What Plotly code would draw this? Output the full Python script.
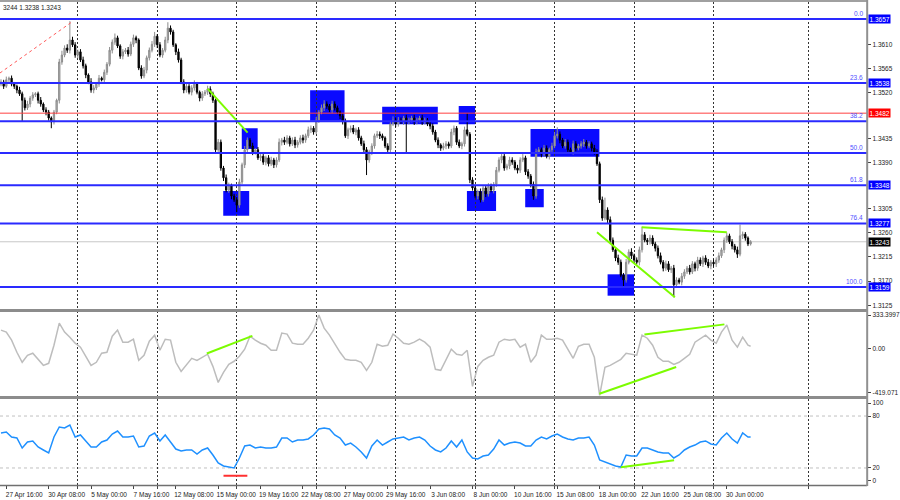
import plotly.graph_objects as go

# ---------------- DATA ----------------
# H4 candles: closes in pips (1.xxxx -> xxxx), wicks in pips
first_open_pips = 3536
close_pips = [
    3540,3532,3544,3547,3536,3532,3525,3518,3506,3492,
    3499,3510,3516,3518,3506,3499,3488,3484,3473,3466,
    3484,3506,3577,3590,3603,3599,3618,3609,3590,3596,
    3581,3570,3553,3540,3525,3529,3536,3547,3544,3558,
    3573,3599,3614,3622,3607,3588,3596,3599,3592,3610,
    3622,3618,3566,3551,3562,3585,3599,3610,3625,3609,
    3590,3599,3618,3640,3633,3609,3596,3581,3540,3525,
    3532,3521,3529,3536,3521,3510,3518,3521,3527,3518,
    3506,3414,3428,3380,3362,3339,3348,3328,3321,3311,
    3354,3386,3414,3432,3421,3410,3414,3399,3402,3391,
    3399,3388,3395,3386,3395,3428,3432,3428,3436,3425,
    3432,3423,3428,3436,3432,3440,3451,3454,3447,3469,
    3484,3492,3499,3495,3488,3499,3492,3484,3477,3466,
    3440,3451,3454,3447,3451,3436,3425,3414,3395,3410,
    3421,3440,3443,3440,3436,3421,3414,3462,3469,3462,
    3469,3466,3473,3466,3469,3473,3466,3469,3473,3466,
    3469,3462,3458,3447,3432,3423,3417,3421,3425,3421,
    3447,3454,3428,3421,3425,3451,3443,3358,3343,3328,
    3336,3321,3343,3332,3346,3339,3350,3376,3395,3402,
    3380,3384,3395,3391,3380,3376,3395,3399,3373,3365,
    3350,3328,3410,3414,3406,3417,3402,3414,3421,3440,
    3443,3432,3421,3428,3414,3410,3425,3417,3421,3425,
    3428,3421,3425,3417,3410,3388,3321,3287,3302,3284,
    3246,3228,3213,3205,3181,3172,3205,3224,3217,3209,
    3205,3228,3256,3246,3243,3250,3239,3231,3217,3205,
    3194,3202,3191,3194,3163,3172,3168,3179,3187,3194,
    3187,3202,3194,3209,3202,3213,3205,3198,3205,3202,
    3209,3217,3228,3246,3254,3243,3235,3228,3220,3254,3257,3250,3239,3243,
]
wick_hi = [
    5,4,6,3,5,4,3,6,4,5,
    6,4,5,3,4,6,3,5,4,3,
    4,3,6,8,5,7,35,6,5,4,
    5,6,4,3,7,5,4,6,3,5,
    4,6,5,8,4,3,5,4,6,5,
    6,4,3,5,6,4,5,6,8,4,
    5,4,6,11,5,4,3,6,4,5,
    6,4,5,7,4,3,5,4,6,5,
    4,3,6,5,4,6,5,3,4,5,
    6,4,7,5,4,6,3,5,4,6,
    4,5,6,4,5,7,4,6,5,4,
    5,6,4,5,6,4,6,5,4,6,
    4,6,7,5,4,6,5,4,3,5,
    6,4,5,6,4,5,4,6,5,4,
    5,4,6,5,4,3,5,6,7,5,
    6,5,4,6,5,4,6,5,4,6,
    5,4,6,5,4,5,3,6,5,4,
    6,5,4,5,4,6,31,4,5,6,
    4,6,5,4,6,5,4,6,5,7,
    5,4,6,5,4,6,5,7,4,5,
    4,5,6,5,4,6,5,4,6,7,
    13,5,4,6,5,4,6,5,4,5,
    6,4,5,4,6,5,4,6,23,5,
    6,5,4,6,5,4,6,5,7,4,
    5,6,15,5,4,6,5,4,5,6,
    4,6,5,4,6,5,4,6,5,4,
    6,5,4,6,5,4,5,6,4,5,
    5,6,4,5,6,4,5,4,6,21,5,4,3,3,
]
wick_lo = [
    4,5,3,6,4,5,6,4,40,5,
    4,6,5,4,6,5,4,6,5,12,
    5,4,6,5,4,5,6,4,5,6,
    4,5,6,4,5,6,4,5,3,6,
    5,4,6,5,4,5,6,4,5,4,
    5,6,4,5,4,6,5,4,5,6,
    4,5,4,6,5,4,6,5,4,6,
    5,4,6,5,4,6,5,4,5,6,
    5,6,4,5,6,4,5,6,4,13,
    5,4,6,5,4,6,5,4,6,5,
    6,5,4,6,5,4,6,5,4,5,
    4,6,5,4,6,5,4,6,5,4,
    5,4,6,5,4,6,5,4,6,5,
    4,6,5,4,6,5,4,6,28,5,
    6,5,4,6,5,4,6,5,4,6,
    5,4,6,58,5,4,6,5,4,6,
    5,4,6,5,4,6,5,4,6,5,
    4,6,5,4,6,5,4,6,5,4,
    6,5,4,6,5,4,6,5,4,6,
    5,4,6,5,4,6,5,4,6,5,
    6,7,5,4,6,5,4,6,5,4,
    5,6,4,5,6,4,5,6,4,5,
    6,5,4,6,5,4,6,5,4,6,
    5,4,6,5,4,13,5,4,6,5,
    4,6,5,4,6,5,4,6,5,4,
    6,5,4,6,23,5,4,6,5,4,
    5,4,6,5,4,6,5,4,6,5,
    6,5,4,6,5,4,6,5,7,4,6,5,4,3,
]

# CCI and RSI read every second bar (plus last bar)
cci_vals = [
    165,148,77,-30,-118,-56,-38,-92,-145,-127,
    32,227,148,103,50,15,-65,-145,-118,-38,
    -30,112,165,59,59,85,-101,-56,68,121,
    -12,85,77,-118,-198,-136,-83,-101,-74,-47,
    -154,-295,-207,-136,-109,-65,-3,112,77,50,
    32,-12,-12,139,130,50,41,41,94,165,
    298,183,121,41,-30,-92,-101,-101,-118,-189,
    -118,41,23,32,130,94,50,41,59,85,
    59,15,-180,-189,-101,-3,-47,-56,-12,-330,
    -154,-101,-74,-56,59,85,77,85,15,41,
    -118,-56,121,85,85,94,77,-3,-83,23,
    41,41,-74,-410,-162,-145,-118,-92,-38,-47,
    -56,121,94,32,-74,-109,-109,-136,-118,-83,
    -47,59,94,121,77,50,148,210,77,15,
    103,32,23,
]
rsi_vals = [
    60.4,61.5,55.8,54.6,43.1,50.0,51.2,44.2,40.8,37.3,
    55.8,67.3,66.2,69.6,55.8,58.1,51.2,44.2,44.2,50.0,
    52.3,59.2,62.7,55.8,55.8,56.9,44.2,45.4,56.9,60.4,
    51.2,58.1,50.0,41.9,39.6,40.8,40.8,36.1,40.8,43.1,
    35.0,25.8,22.3,21.1,20.0,31.5,45.4,46.5,43.1,44.2,
    43.1,43.1,44.2,54.6,54.6,50.0,52.3,52.3,53.5,58.1,
    65.0,66.2,65.0,58.1,54.6,46.5,48.8,44.2,38.5,31.5,
    45.4,52.3,46.5,50.0,53.5,54.6,55.8,52.3,54.6,55.8,
    52.3,45.4,40.8,38.5,43.1,51.2,44.2,52.3,38.5,31.5,
    30.4,33.8,35.0,41.9,52.3,46.5,48.8,50.0,48.8,45.4,
    45.4,52.3,55.8,53.5,56.9,59.2,55.8,53.5,52.3,54.6,
    54.6,55.8,46.5,29.2,26.9,24.6,22.3,21.1,35.0,33.8,
    33.8,43.1,43.1,40.8,38.5,37.3,37.3,31.5,35.0,40.8,
    44.2,46.5,50.0,51.2,47.7,46.5,54.6,60.4,53.5,48.8,
    60.4,55.8,55.8,
]

# Fibonacci levels
fib_pct = ["0.0", "23.6", "38.2", "50.0", "61.8", "76.4", "100.0"]
fib_price = [1.3657, 1.3538, 1.34668, 1.3408, 1.3348, 1.3277, 1.3159]
boxed_blue = [1.3657, 1.3538, 1.3348, 1.3277, 1.3159]
red_level = 1.3482
bid_level = 1.3243
price_ticks = [1.3610, 1.3565, 1.3520, 1.3435, 1.3390, 1.3305, 1.3260, 1.3215, 1.3170, 1.3125]
header_text = "3244 1.3238 1.3243"

# zones (bar index range, price range)
zone_x0 = [83.9, 90.9, 116.7, 143.9, 172.8, 175.9, 197.9, 199.9, 229.0]
zone_x1 = [93.7, 96.9, 129.7, 164.9, 179.0, 186.9, 204.9, 225.9, 239.0]
zone_lo = [1.32915, 1.34154, 1.34680, 1.34613, 1.34613, 1.33002, 1.33071, 1.34011, 1.31428]
zone_hi = [1.33374, 1.34539, 1.35245, 1.34940, 1.34953, 1.33374, 1.33411, 1.34526, 1.31825]

# trend lines: (bar0, value0, bar1, value1)
price_trend = [(78.0, 1.35275, 93.1, 1.34457), (225.0, 1.32606, 254.4, 1.31398), (241.9, 1.32699, 274.0, 1.32606)]
price_red_dotted = (-0.4, 1.35566, 26.9, 1.36520)
cci_trend = [(77.7, -41.1, 94.9, 114.7), (225.9, -395.0, 254.9, -159.7), (242.9, 127.1, 273.1, 215.7)]
rsi_trend = [(234.0, 20.8, 254.1, 28.9)]
rsi_red = (84.0, 11.1, 93.0, 11.1)

tick_bars = [2 + 16 * k for k in range(18)]
tick_text = ["27 Apr 16:00", "30 Apr 08:00", "5 May 00:00", "7 May 16:00", "12 May 08:00",
             "15 May 00:00", "19 May 16:00", "22 May 08:00", "27 May 00:00", "29 May 16:00",
             "3 Jun 08:00", "8 Jun 00:00", "10 Jun 16:00", "15 Jun 08:00", "18 Jun 00:00",
             "22 Jun 16:00", "25 Jun 08:00", "30 Jun 00:00"]
grid_bars = [29, 59, 89, 119, 149, 179, 209, 239, 269, 305]

# ---------------- BUILD ----------------
n = len(close_pips)
assert len(wick_hi) == n and len(wick_lo) == n, (n, len(wick_hi), len(wick_lo))
bars = list(range(n))
close = [1 + c / 10000 for c in close_pips]
open_ = [1 + first_open_pips / 10000] + close[:-1]
high = [max(o, c) + w / 10000 for o, c, w in zip(open_, close, wick_hi)]
low = [min(o, c) - w / 10000 for o, c, w in zip(open_, close, wick_lo)]
ind_bars = list(range(0, n, 2)) + [n - 1]
assert len(cci_vals) == len(ind_bars) and len(rsi_vals) == len(ind_bars)

FONT = "Liberation Sans"
GREEN = "#7cfc00"
XD = 0.97

fig = go.Figure()
fig.add_trace(go.Candlestick(
    x=bars, open=open_, high=high, low=low, close=close,
    increasing=dict(line=dict(color="#8c8c8c", width=1), fillcolor="#b4b4b4"),
    decreasing=dict(line=dict(color="#000000", width=1), fillcolor="#000000"),
    whiskerwidth=0, xaxis="x", yaxis="y", showlegend=False, hoverinfo="skip"))

for (a0, v0, a1, v1) in price_trend:
    fig.add_trace(go.Scatter(x=[a0, a1], y=[v0, v1], mode="lines", line=dict(color=GREEN, width=2),
                             xaxis="x", yaxis="y", showlegend=False, hoverinfo="skip"))
a0, v0, a1, v1 = price_red_dotted
fig.add_trace(go.Scatter(x=[a0, a1], y=[v0, v1], mode="lines", line=dict(color="#ff5a5a", width=1, dash="dot"),
                         xaxis="x", yaxis="y", showlegend=False, hoverinfo="skip"))

fig.add_trace(go.Scatter(x=ind_bars, y=cci_vals, mode="lines", line=dict(color="#bdbdbd", width=1.5),
                         xaxis="x", yaxis="y2", showlegend=False, hoverinfo="skip"))
for (a0, v0, a1, v1) in cci_trend:
    fig.add_trace(go.Scatter(x=[a0, a1], y=[v0, v1], mode="lines", line=dict(color=GREEN, width=2),
                             xaxis="x", yaxis="y2", showlegend=False, hoverinfo="skip"))

fig.add_trace(go.Scatter(x=ind_bars, y=rsi_vals, mode="lines", line=dict(color="#1e90ff", width=1.5),
                         xaxis="x", yaxis="y3", showlegend=False, hoverinfo="skip"))
for (a0, v0, a1, v1) in rsi_trend:
    fig.add_trace(go.Scatter(x=[a0, a1], y=[v0, v1], mode="lines", line=dict(color=GREEN, width=2),
                             xaxis="x", yaxis="y3", showlegend=False, hoverinfo="skip"))
a0, v0, a1, v1 = rsi_red
fig.add_trace(go.Scatter(x=[a0, a1], y=[v0, v1], mode="lines", line=dict(color="#ff3030", width=2),
                         xaxis="x", yaxis="y3", showlegend=False, hoverinfo="skip"))

shapes = []
for x0, x1, lo, hi in zip(zone_x0, zone_x1, zone_lo, zone_hi):
    shapes.append(dict(type="rect", xref="x", yref="y", x0=x0, x1=x1, y0=lo, y1=hi,
                       fillcolor="#0a0aff", line=dict(width=0), layer="below"))
for p in fib_price:
    shapes.append(dict(type="line", xref="paper", yref="y", x0=0, x1=XD, y0=p, y1=p,
                       line=dict(color="#2a2aff", width=2)))
shapes.append(dict(type="line", xref="paper", yref="y", x0=0, x1=XD, y0=red_level, y1=red_level,
                   line=dict(color="#ff4040", width=1)))
shapes.append(dict(type="line", xref="paper", yref="y", x0=0, x1=XD, y0=bid_level, y1=bid_level,
                   line=dict(color="#c8c8c8", width=1), layer="below"))
for lv in (80, 20):
    shapes.append(dict(type="line", xref="paper", yref="y3", x0=0, x1=XD, y0=lv, y1=lv,
                       line=dict(color="#c0c0c0", width=1, dash="3px,3px"), layer="below"))
# panel frames
for ypx, w, c in [(1, 2, "#a0a0a0"), (310.5, 3, "#8c8c8c"), (397.5, 3, "#8c8c8c"), (485.5, 1.5, "#707070")]:
    shapes.append(dict(type="line", xref="paper", yref="paper", x0=0, x1=XD, y0=1 - ypx / 500, y1=1 - ypx / 500,
                       line=dict(color=c, width=w)))
shapes.append(dict(type="line", xref="paper", yref="paper", x0=XD, x1=XD, y0=1 - 486 / 500, y1=1,
                   line=dict(color="#909090", width=2)))

ann = []
for t, p in zip(fib_pct, fib_price):
    ann.append(dict(xref="paper", yref="y", x=XD, y=p, text=t, showarrow=False, xanchor="right",
                    yanchor="bottom", xshift=-2, yshift=0, font=dict(size=6.5, color="#5050ff", family=FONT)))
for p in boxed_blue:
    ann.append(dict(xref="paper", yref="y", x=XD, y=p, text=f"{p:.4f}", showarrow=False, xanchor="left",
                    yanchor="middle", xshift=1, bgcolor="#0000ff", borderpad=0.5,
                    font=dict(size=6.5, color="white", family=FONT)))
ann.append(dict(xref="paper", yref="y", x=XD, y=red_level, text=f"{red_level:.4f}", showarrow=False,
                xanchor="left", yanchor="middle", xshift=1, bgcolor="#ff0000", borderpad=0.5,
                font=dict(size=6.5, color="white", family=FONT)))
ann.append(dict(xref="paper", yref="y", x=XD, y=bid_level, text=f"{bid_level:.4f}", showarrow=False,
                xanchor="left", yanchor="middle", xshift=1, bgcolor="#000000", borderpad=0.5,
                font=dict(size=6.5, color="white", family=FONT)))
ann.append(dict(xref="paper", yref="paper", x=1 / 900, y=1 - 7 / 500, text=header_text,
                showarrow=False, xanchor="left", yanchor="middle", font=dict(size=6.5, color="#222", family=FONT)))

tickfont = dict(size=6.5, color="#222", family=FONT)
fig.update_layout(
    width=900, height=500, margin=dict(l=0, r=0, t=0, b=0),
    paper_bgcolor="white", plot_bgcolor="white", hovermode=False,
    font=dict(family=FONT, size=6.5, color="#222"),
    xaxis=dict(domain=[0, XD], range=[-0.375, 327], anchor="y3", showgrid=False, zeroline=False,
               showline=False, tickmode="array", tickvals=tick_bars, ticktext=tick_text,
               ticks="outside", ticklen=3, tickcolor="#444", tickfont=tickfont, ticklabelshift=18,
               minor=dict(tickmode="array", tickvals=grid_bars, showgrid=True, gridcolor="#333",
                          griddash="2px,2px", gridwidth=1, ticks="outside", ticklen=3, tickcolor="#444"),
               rangeslider=dict(visible=False), fixedrange=True),
    yaxis=dict(domain=[0.38, 0.996], range=[1.31162, 1.36886], side="right", anchor="x", showgrid=False,
               zeroline=False, tickmode="array", tickvals=price_ticks, ticktext=[f"{v:.4f}" for v in price_ticks],
               ticks="outside", ticklen=3, tickcolor="#444", tickfont=tickfont, fixedrange=True),
    yaxis2=dict(domain=[0.207, 0.378], range=[-419.071, 333.3997], side="right", anchor="x", showgrid=False,
                zeroline=False, tickmode="array", tickvals=[298, 0, -384],
                ticktext=["333.3997", "0.00", "-419.071"], ticks="outside", ticklen=3, tickcolor="#444",
                tickfont=tickfont, fixedrange=True),
    yaxis3=dict(domain=[0.0294, 0.2026], range=[0, 100], side="right", anchor="x", showgrid=False,
                zeroline=False, tickmode="array", tickvals=[95, 80, 20, 5], ticktext=["100", "80", "20", "0"],
                ticks="outside", ticklen=3, tickcolor="#444", tickfont=tickfont, fixedrange=True),
    shapes=shapes, annotations=ann,
)

fig.write_html("out.html")
